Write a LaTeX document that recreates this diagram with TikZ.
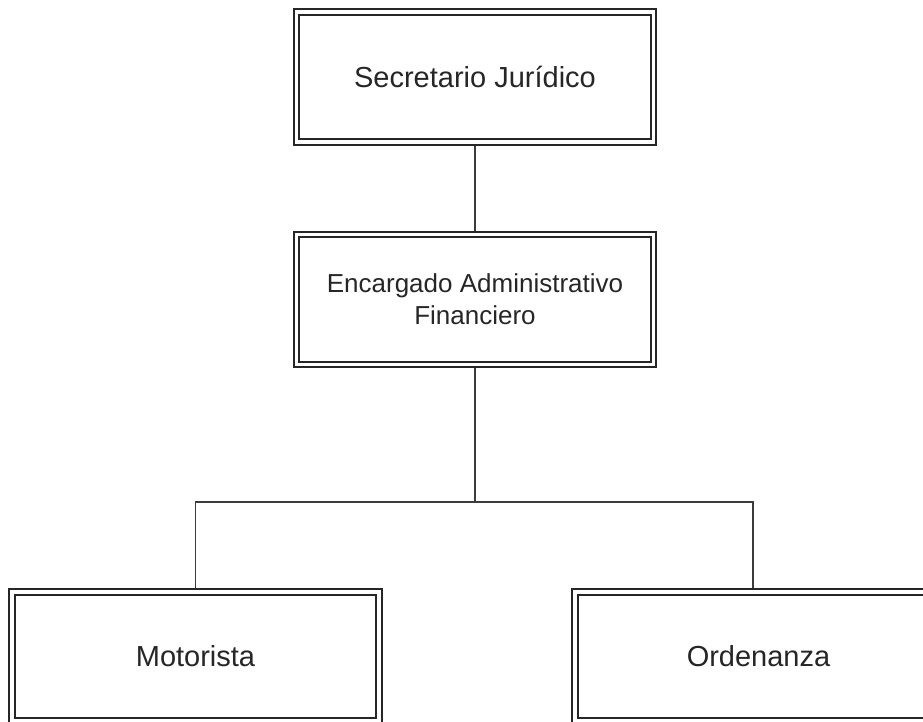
\documentclass[tikz,border=0pt]{standalone}
\usepackage{fontspec}
\setmainfont{Liberation Sans}
\usetikzlibrary{backgrounds}
\definecolor{cink}{HTML}{262626}
\definecolor{cline}{HTML}{3C3C3C}
\tikzset{
  every picture/.style={font=\fontsize{16.5}{20}\selectfont, line width=0.6pt},
  post/.style={draw=cink, double=white, double distance=0.07cm, line width=1pt, text=cink, align=center, inner sep=0pt, minimum width=7.14cm, minimum height=2.6cm},
  wide/.style={post, minimum width=7.34cm, minimum height=2.58cm},
  link/.style={draw=cline, line width=0.6pt},
}

\begin{document}
\begin{tikzpicture}
  \useasboundingbox (0,0) rectangle (18.46,-14.44);
  \node[post] (sec) at (9.5, -1.54) {Secretario Jurídico};
  \node[post, font=\fontsize{14.8}{18.2}\selectfont] (enc) at (9.5, -5.99) {Encargado Administrativo\\Financiero};
  \node[wide] (mot) at (3.91, -13.13) {Motorista};
  \node[wide] (ord) at (15.17, -13.13) {Ordenanza};
  \coordinate (bus) at (9.5, -10.04);
  % lines behind the boxes
  \begin{scope}[on background layer]
    \draw[link] (sec.south) -- (enc.north);
    \draw[link] (enc.south) -- (bus) -| (mot.north);
    \draw[link] (bus) -| ([xshift=-0.11cm]ord.north);
  \end{scope}
\end{tikzpicture}
\end{document}
